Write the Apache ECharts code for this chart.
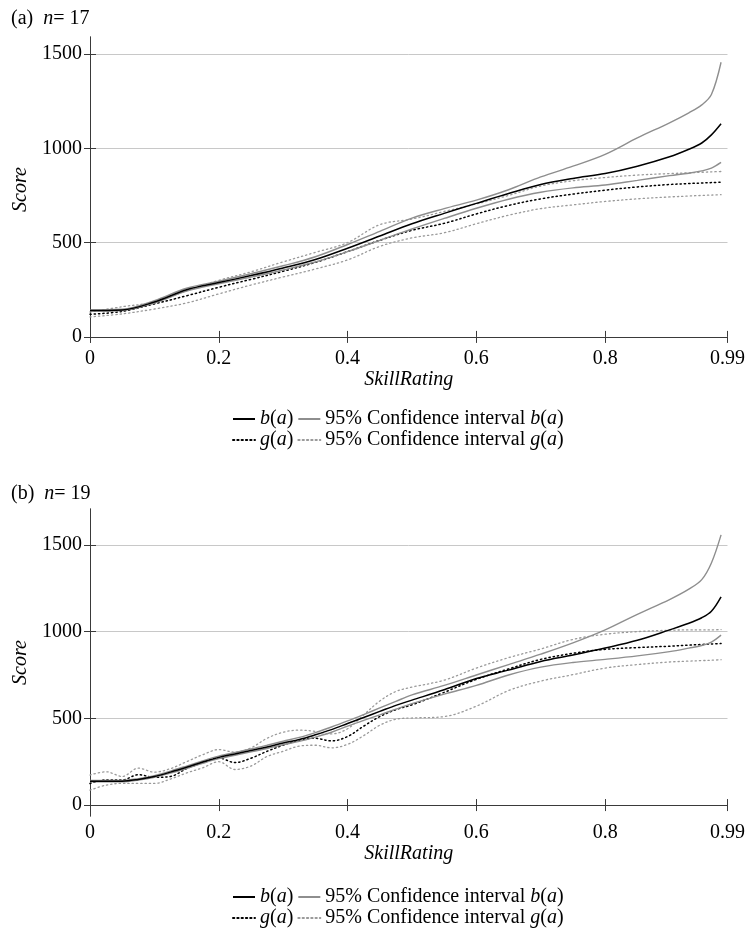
<!DOCTYPE html>
<html>
<head>
<meta charset="utf-8">
<script src="https://cdn.jsdelivr.net/npm/echarts@6/dist/echarts.min.js"></script>
<style>html,body{margin:0;padding:0;background:#fff}#c{width:748px;height:931px}</style>
</head>
<body>
<div id="c"></div>
<script>
// ---------- data ----------
const xTicks = [0, 0.2, 0.4, 0.6, 0.8, 0.99];
const yTicks = [0, 500, 1000, 1500];

// (a) n = 17
const xsTop = [0, 0.05, 0.1, 0.15, 0.2, 0.25, 0.3, 0.35, 0.4, 0.45, 0.5, 0.55, 0.6, 0.65, 0.7, 0.75, 0.8, 0.85, 0.9, 0.93, 0.95, 0.965, 0.98];
const bTop      = [140, 143, 185, 250, 288, 325, 365, 410, 470, 535, 600, 655, 708, 760, 808, 840, 866, 905, 955, 995, 1028, 1071, 1130];
const bUpTop    = [143, 147, 192, 258, 295, 335, 377, 425, 490, 560, 630, 680, 725, 780, 848, 905, 968, 1055, 1135, 1188, 1230, 1285, 1456];
const bLoTop    = [137, 140, 180, 243, 282, 317, 355, 397, 452, 512, 572, 628, 682, 730, 767, 790, 805, 830, 855, 868, 880, 895, 925];
const gTop      = [120, 135, 175, 218, 263, 305, 348, 395, 452, 512, 565, 602, 652, 697, 732, 757, 778, 795, 808, 813, 816, 818, 820];
const gUpTop    = [132, 160, 185, 245, 300, 345, 398, 448, 500, 595, 625, 665, 705, 750, 800, 828, 845, 858, 866, 870, 873, 875, 877];
const gLoTop    = [106, 122, 148, 180, 228, 275, 318, 360, 408, 480, 525, 552, 600, 645, 680, 700, 718, 732, 742, 747, 750, 752, 754];

// (b) n = 19
const xsBot = [0, 0.025, 0.05, 0.075, 0.1, 0.125, 0.15, 0.175, 0.2, 0.225, 0.25, 0.275, 0.3, 0.325, 0.35, 0.375, 0.4, 0.425, 0.45, 0.475, 0.5, 0.55, 0.6, 0.65, 0.7, 0.75, 0.8, 0.85, 0.9, 0.93, 0.95, 0.965, 0.98];
const bBot   = [138, 138, 138, 148, 165, 190, 218, 248, 275, 295, 315, 335, 358, 378, 405, 435, 470, 505, 540, 575, 605, 665, 730, 778, 828, 865, 905, 950, 1010, 1048, 1080, 1117, 1200];
const bUpBot = [142, 142, 142, 152, 170, 196, 225, 255, 282, 303, 323, 345, 368, 390, 418, 450, 485, 522, 560, 598, 635, 690, 750, 810, 870, 935, 1010, 1100, 1185, 1245, 1300, 1396, 1558];
const bLoBot = [134, 134, 134, 144, 160, 184, 211, 241, 268, 287, 307, 326, 348, 367, 392, 420, 455, 488, 520, 553, 585, 640, 690, 750, 795, 822, 840, 860, 885, 905, 920, 940, 980];
const gBot   = [125, 145, 145, 175, 160, 165, 210, 245, 272, 245, 270, 310, 345, 375, 385, 370, 395, 455, 510, 550, 578, 650, 725, 785, 840, 875, 898, 908, 916, 922, 926, 929, 931];
const gUpBot = [173, 192, 165, 213, 190, 210, 250, 290, 320, 305, 330, 385, 420, 432, 425, 410, 440, 520, 600, 655, 680, 720, 790, 850, 900, 955, 985, 1000, 1008, 1010, 1010, 1010, 1012];
const gLoBot = [86, 115, 125, 125, 125, 150, 185, 215, 250, 205, 225, 280, 310, 340, 345, 330, 350, 400, 460, 495, 502, 510, 570, 660, 715, 752, 790, 810, 825, 830, 833, 835, 838];

const NAME_B = 'b(a)', NAME_BCI = '95% Confidence interval b(a)';
const NAME_G = 'g(a)', NAME_GCI = '95% Confidence interval g(a)';

// ---------- styling ----------
const FONT = 'Liberation Serif';
const FS = 20;
const rich = {
  n: { fontFamily: FONT, fontSize: FS, fontWeight: 'normal', color: '#000' },
  i: { fontFamily: FONT, fontSize: FS, fontWeight: 'normal', fontStyle: 'italic', color: '#000' }
};
const GRAY = '#8e8e8e';
const AX = '#3a3a3a';
const GRID = '#c8c8c8';

function pairs(xs, ys) { return xs.map((x, i) => [x, ys[i]]); }

const grids = [
  { left: 90, top: 37, width: 638, height: 305 },
  { left: 90, top: 509, width: 638, height: 307 }
];
const yRanges = [[-27, 1590], [-63, 1707]];

const xAxes = [], yAxes = [];
grids.forEach((g, gi) => {
  xAxes.push({
    type: 'value', gridIndex: gi, min: 0, max: 0.99, position: 'bottom',
    name: 'SkillRating', nameLocation: 'middle', nameGap: 24,
    nameTextStyle: { fontFamily: FONT, fontSize: FS, fontStyle: 'italic', color: '#000' },
    axisLine: { show: true, lineStyle: { color: AX, width: 1 } },
    axisTick: { show: true, inside: true, length: 6, customValues: xTicks, lineStyle: { color: AX } },
    axisLabel: { show: true, customValues: xTicks, margin: 7, fontFamily: FONT, fontSize: FS, color: '#000', formatter: v => String(v) },
    splitLine: { show: false }
  });
  xAxes.push({
    type: 'value', gridIndex: gi, min: 0, max: 0.99, position: 'top',
    axisLine: { show: true, lineStyle: { color: AX, width: 1 } },
    axisTick: { show: true, inside: true, length: 6, customValues: xTicks, lineStyle: { color: AX } },
    axisLabel: { show: false },
    splitLine: { show: false }
  });
  yAxes.push({
    type: 'value', gridIndex: gi, min: yRanges[gi][0], max: yRanges[gi][1], position: 'left',
    name: 'Score', nameLocation: 'middle', nameGap: 55, nameRotate: 90,
    nameTextStyle: { fontFamily: FONT, fontSize: FS, fontStyle: 'italic', color: '#000' },
    axisLine: { show: true, lineStyle: { color: AX, width: 1 } },
    axisTick: { show: true, inside: true, length: 6, customValues: yTicks, lineStyle: { color: AX } },
    axisLabel: { show: true, customValues: yTicks, margin: 8, fontFamily: FONT, fontSize: FS, color: '#000', formatter: v => String(v) },
    splitLine: { show: true, lineStyle: { color: GRID, width: 1 } }
  });
  yAxes.push({
    type: 'value', gridIndex: gi, min: yRanges[gi][0], max: yRanges[gi][1], position: 'right',
    axisLine: { show: true, lineStyle: { color: AX, width: 1 } },
    axisTick: { show: true, inside: true, length: 6, customValues: yTicks, lineStyle: { color: AX } },
    axisLabel: { show: false },
    splitLine: { show: false }
  });
});

function line(name, gi, xs, ys, color, dotted, width) {
  return {
    type: 'line', name, xAxisIndex: gi * 2, yAxisIndex: gi * 2,
    data: pairs(xs, ys), smooth: 0.35, symbol: 'none', showSymbol: false,
    silent: true, animation: false,
    lineStyle: { color, width, type: dotted ? [1.3, 3] : 'solid', cap: dotted ? 'round' : 'butt' },
    itemStyle: { color }
  };
}

const series = [];
[[xsTop, bTop, bUpTop, bLoTop, gTop, gUpTop, gLoTop], [xsBot, bBot, bUpBot, bLoBot, gBot, gUpBot, gLoBot]].forEach((d, gi) => {
  const [xs, b, bu, bl, g, gu, gl] = d;
  series.push(line(NAME_GCI, gi, xs, gu, '#9a9a9a', true, 1.3));
  series.push(line(NAME_GCI, gi, xs, gl, '#9a9a9a', true, 1.3));
  series.push(line(NAME_G, gi, xs, g, '#000', true, 1.5));
  series.push(line(NAME_BCI, gi, xs, bu, GRAY, false, 1.4));
  series.push(line(NAME_BCI, gi, xs, bl, GRAY, false, 1.4));
  series.push(line(NAME_B, gi, xs, b, '#000', false, 1.5));
});

const fmtMap = {};
fmtMap[NAME_B] = '{i|b}{n|(}{i|a}{n|)}';
fmtMap[NAME_G] = '{i|g}{n|(}{i|a}{n|)}';
fmtMap[NAME_BCI] = '{n|95% Confidence interval }{i|b}{n|(}{i|a}{n|)}';
fmtMap[NAME_GCI] = '{n|95% Confidence interval }{i|g}{n|(}{i|a}{n|)}';

function legend(top, names) {
  return {
    top, left: 227, orient: 'horizontal',
    itemWidth: 22, itemHeight: 10, itemGap: 4,
    data: names,
    formatter: n => fmtMap[n],
    itemStyle: { opacity: 0 },
    textStyle: { fontFamily: FONT, fontSize: FS, color: '#000', rich },
    selectedMode: false
  };
}

const chart = echarts.init(document.getElementById('c'), null, { renderer: 'canvas' });
chart.setOption({
  animation: false,
  backgroundColor: '#fff',
  title: [
    { text: '{n|(a)  }{i|n}{n|= 17}', left: 6, top: 4, textStyle: { fontWeight: 'normal', rich } },
    { text: '{n|(b)  }{i|n}{n|= 19}', left: 6, top: 479, textStyle: { fontWeight: 'normal', rich } }
  ],
  grid: grids,
  xAxis: xAxes,
  yAxis: yAxes,
  legend: [
    legend(404, [NAME_B, NAME_BCI]),
    legend(425, [NAME_G, NAME_GCI]),
    legend(882, [NAME_B, NAME_BCI]),
    legend(903, [NAME_G, NAME_GCI])
  ],
  series
});
</script>
</body>
</html>
